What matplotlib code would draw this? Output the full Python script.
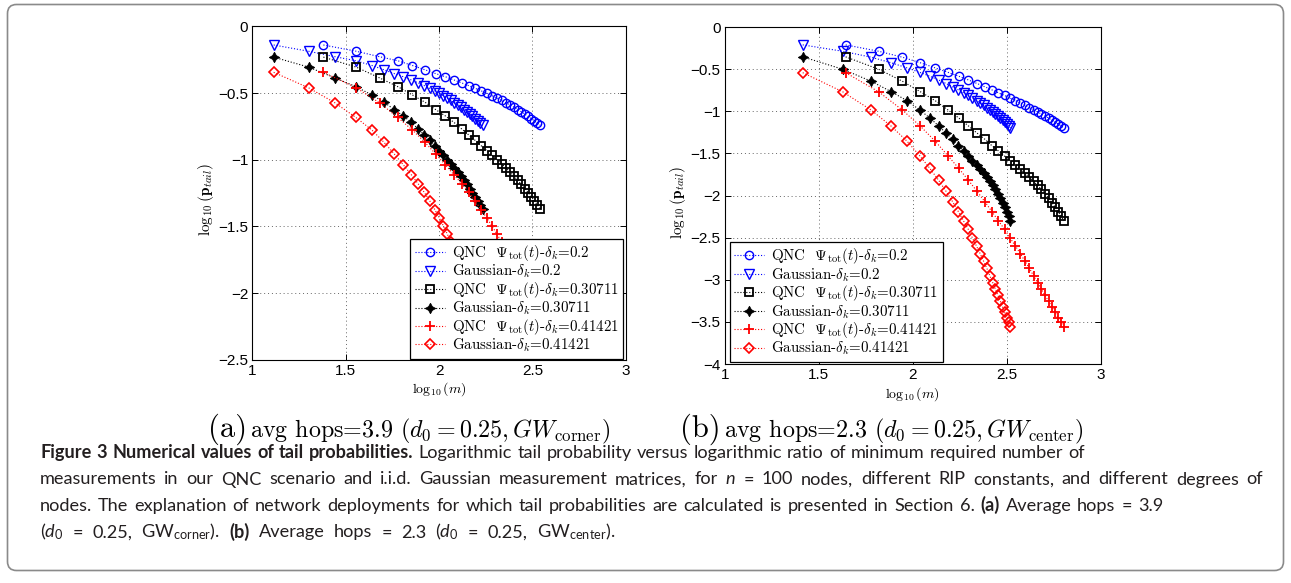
import numpy as np
import matplotlib
matplotlib.use("Agg")
import matplotlib.pyplot as plt
from matplotlib.patches import FancyBboxPatch
from matplotlib.transforms import IdentityTransform

# ========================
# DATA
# ========================

# (a) avg hops = 3.9, gateway in the corner
a_qnc_m = [24, 36, 48, 60, 72, 84, 96, 108, 120, 132, 144, 156, 168, 180,
           192, 204, 216, 228, 240, 252, 264, 276, 288, 300, 312, 324, 336, 348]
a_gauss_m = [13, 20, 27.7, 35.8, 43.7, 50.7, 57.6, 64.3, 70.9, 77.2, 83.3, 89.2, 94.9, 100.3,
             105.5, 110.6, 115.6, 120.6, 125.6, 130.6, 135.6, 140.6, 145.6, 150.6, 155.6, 160.6, 165.6, 171]
a_tail_d1 = [-0.140, -0.187, -0.228, -0.258, -0.294, -0.326, -0.355, -0.378, -0.402, -0.424,
             -0.445, -0.465, -0.484, -0.502, -0.520, -0.538, -0.556, -0.573, -0.590, -0.607,
             -0.624, -0.641, -0.658, -0.675, -0.692, -0.709, -0.725, -0.742]
a_tail_d2 = [-0.231, -0.306, -0.387, -0.452, -0.515, -0.569, -0.625, -0.672, -0.720, -0.769,
             -0.814, -0.855, -0.895, -0.932, -0.967, -1.000, -1.031, -1.062, -1.093, -1.124,
             -1.155, -1.185, -1.216, -1.247, -1.278, -1.308, -1.339, -1.370]
a_tail_d3 = [-0.345, -0.461, -0.574, -0.683, -0.778, -0.870, -0.958, -1.038, -1.112, -1.180,
             -1.245, -1.310, -1.375, -1.437, -1.497, -1.557, -1.617, -1.677, -1.737, -1.797,
             -1.857, -1.917, -1.977, -2.037, -2.097, -2.157, -2.217, -2.277]

# (b) avg hops = 2.3, gateway in the center
b_qnc_m = [44, 66, 88, 110, 132, 154, 176, 198, 220, 242, 264, 286, 308, 330,
           352, 374, 396, 418, 440, 462, 484, 506, 528, 550, 572, 594, 616, 638]
b_gauss_m = [26, 42.5, 60, 77, 93.5, 109, 123.5, 137.5, 150.5, 163, 175, 186.5, 197.5, 208,
             218.5, 228.5, 238.5, 248, 257.5, 266.5, 275.5, 284, 292.5, 300.5, 308.5, 316, 323.5, 331]
b_tail_d1 = [-0.210, -0.286, -0.356, -0.423, -0.484, -0.536, -0.583, -0.627, -0.669, -0.708,
             -0.745, -0.779, -0.811, -0.842, -0.872, -0.901, -0.929, -0.956, -0.982, -1.007,
             -1.031, -1.055, -1.079, -1.102, -1.125, -1.149, -1.172, -1.196]
b_tail_d2 = [-0.352, -0.500, -0.641, -0.767, -0.874, -0.983, -1.079, -1.173, -1.258, -1.331,
             -1.408, -1.470, -1.530, -1.585, -1.635, -1.685, -1.735, -1.784, -1.832, -1.880,
             -1.927, -1.977, -2.030, -2.083, -2.136, -2.190, -2.245, -2.300]
b_tail_d3 = [-0.540, -0.768, -0.983, -1.177, -1.356, -1.527, -1.678, -1.819, -1.950, -2.072,
             -2.191, -2.302, -2.400, -2.505, -2.600, -2.690, -2.781, -2.864, -2.955, -3.034,
             -3.113, -3.186, -3.254, -3.319, -3.388, -3.452, -3.507, -3.563]

deltas = ['0.2', '0.30711', '0.41421']

x_ticks = [1, 1.5, 2, 2.5, 3]
x_tick_labels = ['1', '1.5', '2', '2.5', '3']
a_y_ticks = [-2.5, -2, -1.5, -1, -0.5, 0]
a_y_tick_labels = ['\u22122.5', '\u22122', '\u22121.5', '\u22121', '\u22120.5', '0']
b_y_ticks = [-4, -3.5, -3, -2.5, -2, -1.5, -1, -0.5, 0]
b_y_tick_labels = ['\u22124', '\u22123.5', '\u22123', '\u22122.5', '\u22122',
                   '\u22121.5', '\u22121', '\u22120.5', '0']

# ========================
# STYLE
# ========================

plt.rcParams['mathtext.fontset'] = 'cm'
# used by the caption (math_fontfamily='custom')
plt.rcParams['mathtext.rm'] = 'Lato'
plt.rcParams['mathtext.it'] = 'Lato:italic'
plt.rcParams['mathtext.bf'] = 'Lato:bold'

colors = ['#0000ff', '#000000', '#ff0000']
qnc_style = [
    dict(marker='o', ms=6, mfc='none', mew=1.0),
    dict(marker='s', ms=6, mfc='none', mew=1.3),
    dict(marker='+', ms=7, mew=1.3),
]
gauss_style = [
    dict(marker='v', ms=7, mfc='none', mew=1.0),
    dict(marker=(4, 1, 0), ms=7.5, mew=0.6),
    dict(marker='D', ms=5, mfc='none', mew=1.2),
]

W, H = 1291, 583
fig = plt.figure(figsize=(W / 100, H / 100), dpi=100)
renderer = fig.canvas.get_renderer()


def px_axes(x0, y0, x1, y1):
    return fig.add_axes([x0 / W, 1 - y1 / H, (x1 - x0) / W, (y1 - y0) / H])


def draw_panel(ax, qnc_m, gauss_m, tails, y_ticks, y_tick_labels, leg_loc, leg_anchor):
    for i, tail in enumerate(tails):
        c = colors[i]
        ax.plot(np.log10(qnc_m), tail, ls=':', lw=0.8, color=c, mec=c,
                label=r'QNC  $\Psi_{\rm tot}(t)$-$\delta_k$=' + deltas[i], **qnc_style[i])
        ax.plot(np.log10(gauss_m), tail, ls=':', lw=0.8, color=c, mec=c,
                label=r'Gaussian-$\delta_k$=' + deltas[i], **gauss_style[i])

    ax.set_xlim(1, 3)
    ax.set_ylim(y_ticks[0], y_ticks[-1])
    ax.set_xticks(x_ticks)
    ax.set_xticklabels(x_tick_labels)
    ax.set_yticks(y_ticks)
    ax.set_yticklabels(y_tick_labels)
    ax.tick_params(direction='in', length=4, width=0.7, top=True, right=True,
                   labelsize=11, pad=3)
    for lab in ax.get_xticklabels() + ax.get_yticklabels():
        lab.set_family('Liberation Sans')
    ax.grid(True, ls=(0, (1, 3)), color='0.4', lw=0.7)
    for s in ax.spines.values():
        s.set_linewidth(0.8)

    ax.set_xlabel(r'$\log_{10}(m)$', fontsize=10, va='top')
    ax.xaxis.set_label_coords(0.5, -0.062)
    ax.set_ylabel(r'$\log_{10}(\mathbf{p}_{tail})$', fontsize=11)
    ax.yaxis.set_label_coords(-0.097, 0.48)

    leg = ax.legend(loc=leg_loc, bbox_to_anchor=leg_anchor,
                    prop=dict(family='cmr10', size=10.8), numpoints=1,
                    handlelength=2.0, handletextpad=0.45, borderpad=0.3,
                    labelspacing=-0.02, borderaxespad=0, fancybox=False,
                    framealpha=1, edgecolor='black')
    leg.get_frame().set_linewidth(0.9)


ax_a = px_axes(252.4, 26.3, 625.8, 359.8)
ax_b = px_axes(724.7, 27.2, 1100.7, 364.0)

draw_panel(ax_a, a_qnc_m, a_gauss_m, [a_tail_d1, a_tail_d2, a_tail_d3],
           a_y_ticks, a_y_tick_labels, 'lower right', (0.993, 0.003))
draw_panel(ax_b, b_qnc_m, b_gauss_m, [b_tail_d1, b_tail_d2, b_tail_d3],
           b_y_ticks, b_y_tick_labels, 'lower left', (0.014, 0.006))


# ========================
# TEXT HELPERS
# ========================

def text_run(x_px, base_px, pieces, **kw):
    """Draw pieces one after another on a common baseline (pixel coords from top-left)."""
    x = x_px
    for s, extra, gap in pieces:
        opts = dict(kw)
        opts.update(extra)
        t = fig.text(x / W, 1 - base_px / H, s, ha='left', va='baseline', **opts)
        bb = t.get_window_extent(renderer)
        x = bb.x1 + gap
    return x


def spread_line(x0, x1, base_px, segments, **kw):
    """Lay the words of a line out so that it runs from x0 to x1 (pixels)."""
    words = []
    for s, extra in segments:
        for w in s.split(' '):
            if w:
                words.append((w, extra))
    arts = []
    for w, extra in words:
        opts = dict(kw)
        opts.update(extra)
        arts.append(fig.text(0, 1 - base_px / H, w, ha='left', va='baseline', **opts))
    widths = [a.get_window_extent(renderer).width for a in arts]
    gap = (x1 - x0 - sum(widths)) / (len(arts) - 1)
    x = x0
    for a, wd in zip(arts, widths):
        a.set_x(x / W)
        x += wd + gap


# panel sub-captions
sub_kw = dict(family='cmr10', color='black')
text_run(208, 437, [('(a)', dict(fontsize=22), 3),
                    (r'avg hops=3.9 ($d_0 = 0.25, GW_{\rm corner}$)', dict(fontsize=17.3), 0)], **sub_kw)
text_run(680, 437, [('(b)', dict(fontsize=22), 3),
                    (r'avg hops=2.3 ($d_0 = 0.25, GW_{\rm center}$)', dict(fontsize=17.3), 0)], **sub_kw)

# figure caption: font size chosen so the first line runs to its natural width
cap_kw = dict(family='Lato', color='#231f20', math_fontfamily='custom')
head = 'Figure 3 Numerical values of tail probabilities.'
rest = 'Logarithmic tail probability versus logarithmic ratio of minimum required number of'
p1 = fig.text(0, 0, head, fontsize=10, weight='bold', **cap_kw)
p2 = fig.text(0, 0, rest, fontsize=10, **cap_kw)
w10 = p1.get_window_extent(renderer).width + p2.get_window_extent(renderer).width
cap_size = 10 * 1040 / (w10 + 10 * 0.28 * 100 / 72)
p1.remove()
p2.remove()

bold = dict(fontsize=cap_size, weight='bold')
norm = dict(fontsize=cap_size)
cap_lines = [
    (1085, [(head, bold), (rest, norm)]),
    (1263, [(r'measurements in our QNC scenario and i.i.d. Gaussian measurement matrices, for $n$ = 100 '
             r'nodes, different RIP constants, and different degrees of', norm)]),
    (1163, [('nodes. The explanation of network deployments for which tail probabilities are calculated '
             'is presented in Section 6.', norm),
            ('(a)', bold),
            ('Average hops = 3.9', norm)]),
    (615, [(r'($d_0$ = 0.25, GW$_{\mathrm{corner}}$).', norm),
           ('(b)', bold),
           (r'Average hops = 2.3 ($d_0$ = 0.25, GW$_{\mathrm{center}}$).', norm)]),
]
for i, (x_end, segments) in enumerate(cap_lines):
    spread_line(40, x_end, 458 + i * 26.5, segments, **cap_kw)

# rounded frame round the whole figure
frame = FancyBboxPatch((7.5, H - 570.5), 1276, 566, boxstyle='round,pad=0,rounding_size=9',
                       transform=IdentityTransform(), fill=False, edgecolor='#8a8a8a', lw=1.2)
fig.add_artist(frame)

fig.savefig('out.png', dpi=100)
